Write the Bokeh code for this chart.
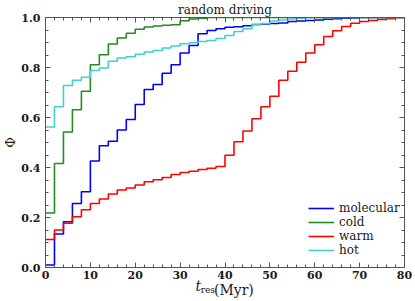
import numpy as np
from bokeh.plotting import figure
from bokeh.models import (Range1d, LinearAxis, Legend, LegendItem, Title,
                          FixedTicker, NumeralTickFormatter)
from bokeh.embed import file_html
from bokeh.resources import INLINE

# ---------------- data ----------------
edges = list(range(0, 82, 2))  # bin edges, Myr

molecular = [0.010, 0.134, 0.183, 0.256, 0.303, 0.426, 0.487, 0.505, 0.550, 0.592,
             0.652, 0.712, 0.732, 0.777, 0.811, 0.858, 0.888, 0.935, 0.948, 0.955,
             0.961, 0.963, 0.967, 0.972, 0.974, 0.976, 0.978, 0.984, 0.986, 0.988,
             0.990, 0.993, 0.995, 0.997, 0.998, 1.000, 1.000, 1.000, 1.000, 1.000]
cold = [0.218, 0.416, 0.542, 0.631, 0.705, 0.811, 0.851, 0.894, 0.918, 0.937,
        0.953, 0.962, 0.966, 0.969, 0.971, 0.987, 0.994, 0.997, 1.000, 1.000,
        1.000, 1.000, 1.000, 1.000, 1.000, 1.000, 1.000, 1.000, 1.000, 1.000,
        1.000, 1.000, 1.000, 1.000, 1.000, 1.000, 1.000, 1.000, 1.000, 1.000]
warm = [0.112, 0.150, 0.177, 0.203, 0.231, 0.256, 0.274, 0.294, 0.310, 0.318,
        0.330, 0.343, 0.351, 0.360, 0.372, 0.380, 0.385, 0.392, 0.397, 0.404,
        0.449, 0.503, 0.546, 0.595, 0.643, 0.685, 0.749, 0.785, 0.821, 0.858,
        0.891, 0.924, 0.947, 0.964, 0.977, 0.984, 0.988, 0.992, 0.995, 1.000]
hot = [0.562, 0.643, 0.728, 0.749, 0.761, 0.788, 0.798, 0.825, 0.838, 0.843,
       0.853, 0.862, 0.868, 0.878, 0.886, 0.895, 0.899, 0.904, 0.908, 0.916,
       0.928, 0.944, 0.955, 0.971, 0.976, 0.986, 0.990, 0.994, 0.997, 1.000,
       1.000, 1.000, 1.000, 1.000, 1.000, 1.000, 1.000, 1.000, 1.000, 1.000]

series_names = ["molecular", "cold", "warm", "hot"]
series_colors = ["#0000ff", "#228b22", "#ff0000", "#40d0d0"]
series_values = [molecular, cold, warm, hot]

x_ticks = [0, 10, 20, 30, 40, 50, 60, 70, 80]
y_ticks = [0.0, 0.2, 0.4, 0.6, 0.8, 1.0]

title_text = "random driving"
ylabel_text = "\u03a6"
xlabel_parts = ["t", "res", "(Myr)"]

# ---------------- figure ----------------
SERIF = "DejaVu Serif"
AX = "#555555"
TXT = "#1a1a1a"
NB = "\u00a0"

p = figure(width=415, height=301, output_backend="svg", toolbar_location=None,
           x_range=Range1d(0, 80), y_range=Range1d(0, 1),
           min_border_left=41, min_border_right=11, min_border_top=16,
           min_border_bottom=34, x_axis_location=None, y_axis_location=None)
p.grid.visible = False
p.outline_line_color = AX
p.outline_line_width = 1

p.title.text = title_text
p.title.align = "center"
p.title.text_font = SERIF
p.title.text_font_size = "12px"
p.title.text_font_style = "normal"
p.title.text_color = TXT
p.title.standoff = 1


def make_axis(ticks, minor, labels=True):
    ax = LinearAxis()
    ax.ticker = FixedTicker(ticks=ticks, minor_ticks=minor)
    ax.axis_line_color = AX
    ax.major_tick_line_color = AX
    ax.minor_tick_line_color = AX
    ax.major_tick_in = 5
    ax.major_tick_out = 0
    ax.minor_tick_in = 3
    ax.minor_tick_out = 0
    ax.major_label_text_font = SERIF
    ax.major_label_text_font_size = "11px" if labels else "0px"
    ax.major_label_text_font_style = "bold"
    ax.major_label_text_color = TXT if labels else None
    ax.major_label_standoff = 3 if labels else 0
    return ax

xminor = list(range(0, 81, 2))
yminor = [i * 0.05 for i in range(21)]

bx = make_axis(x_ticks, xminor)
by = make_axis(y_ticks, yminor)
by.major_label_standoff = 5
by.formatter = NumeralTickFormatter(format="0.0")
by.axis_label = ylabel_text
by.axis_label_standoff = 0
by.axis_label_text_font = SERIF
by.axis_label_text_font_size = "13px"
by.axis_label_text_font_style = "normal"
by.axis_label_text_color = TXT
tx = make_axis(x_ticks, xminor, labels=False)
ry = make_axis(y_ticks, yminor, labels=False)
p.add_layout(bx, "below")
p.add_layout(by, "left")
p.add_layout(tx, "above")
p.add_layout(ry, "right")

items = []
for name, col, vals in zip(series_names, series_colors, series_values):
    r = p.step(x=edges, y=vals + [vals[-1]], mode="after", line_color=col,
               line_width=1.6)
    items.append(LegendItem(label=name, renderers=[r]))

leg = Legend(items=items, location=(263, 10), padding=0, margin=0, spacing=0,
             glyph_width=26, glyph_height=14, label_height=14, label_standoff=5,
             label_text_font=SERIF, label_text_font_size="12px",
             label_text_color=TXT,
             border_line_color=None, background_fill_alpha=0)
p.add_layout(leg)

# x-axis label "t_res (Myr)": stacked titles in the bottom panel, placed on
# one line (text, padding before, padding after, font size, style, standoff)
xl_specs = [(xlabel_parts[0], 0, 12, "14px", "italic", -10.5),
            (xlabel_parts[1], 0, 12, "9px", "normal", -12),
            (xlabel_parts[2], 4, 0, "14px", "normal", -27)]
for txt, pre, post, fs, st, so in xl_specs:
    t = Title(text=NB * pre + txt + NB * post, align="center",
              vertical_align="middle", standoff=so, text_font=SERIF,
              text_font_size=fs, text_font_style=st, text_color=TXT)
    p.add_layout(t, "below")

open("out.html", "w").write(file_html(p, INLINE))
